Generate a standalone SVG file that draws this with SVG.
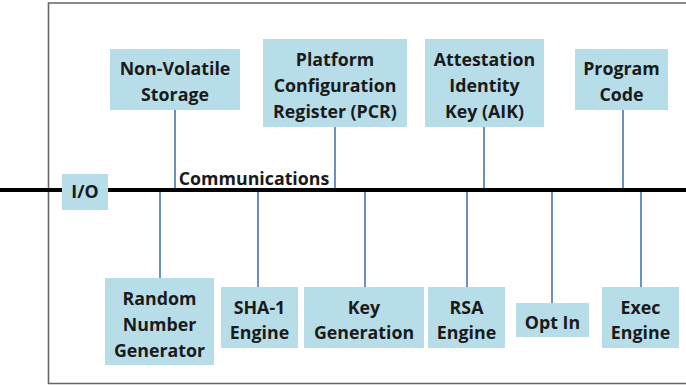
<svg xmlns="http://www.w3.org/2000/svg" width="686" height="386" viewBox="0 0 686 386">
<style>
.box{fill:#b7dde8}
.t{font-family:"Open Sans","Liberation Sans",sans-serif;font-weight:bold;font-size:17.8px;fill:#1a1a1a;text-anchor:middle}
.c{stroke:#6c8fc4;stroke-width:2;fill:none}
</style>
<rect width="686" height="386" fill="#fff"/>
<path d="M686,3 H48.5 V383.5 H686" fill="none" stroke="#666" stroke-width="1.6"/>
<g id="connectors">
<line class="c" x1="175" y1="110" x2="175" y2="190"/>
<line class="c" x1="335" y1="127" x2="335" y2="190"/>
<line class="c" x1="484" y1="127" x2="484" y2="190"/>
<line class="c" x1="623" y1="110" x2="623" y2="190"/>
<line class="c" x1="160" y1="190" x2="160" y2="278"/>
<line class="c" x1="258" y1="190" x2="258" y2="287"/>
<line class="c" x1="365" y1="190" x2="365" y2="287"/>
<line class="c" x1="467" y1="190" x2="467" y2="287"/>
<line class="c" x1="552" y1="190" x2="552" y2="303"/>
<line class="c" x1="641" y1="190" x2="641" y2="287"/>
</g>
<g id="bus">
<line x1="0" y1="190" x2="686" y2="190" stroke="#000" stroke-width="4"/>
<text class="t" x="254" y="185">Communications</text>
</g>
<g id="io"><rect class="box" x="62" y="174" width="46" height="36"/><text class="t" x="85" y="198">I/O</text></g>
<g id="nvs"><rect class="box" x="110" y="49" width="130" height="61"/><text class="t" x="175" y="75">Non-Volatile</text><text class="t" x="175" y="101">Storage</text></g>
<g id="pcr"><rect class="box" x="263" y="39" width="144" height="88"/><text class="t" x="335" y="66">Platform</text><text class="t" x="335" y="92">Configuration</text><text class="t" x="335" y="118">Register (PCR)</text></g>
<g id="aik"><rect class="box" x="425" y="39" width="119" height="88"/><text class="t" x="484.5" y="66">Attestation</text><text class="t" x="484.5" y="92">Identity</text><text class="t" x="484.5" y="118">Key (AIK)</text></g>
<g id="code"><rect class="box" x="575" y="49" width="93" height="61"/><text class="t" x="621.5" y="75">Program</text><text class="t" x="621.5" y="101">Code</text></g>
<g id="rng"><rect class="box" x="105" y="278" width="109" height="87"/><text class="t" x="159.5" y="305">Random</text><text class="t" x="159.5" y="331">Number</text><text class="t" x="159.5" y="357">Generator</text></g>
<g id="sha"><rect class="box" x="221" y="287" width="77" height="61"/><text class="t" x="259.5" y="314">SHA-1</text><text class="t" x="259.5" y="339">Engine</text></g>
<g id="keygen"><rect class="box" x="304" y="287" width="120" height="61"/><text class="t" x="364" y="314">Key</text><text class="t" x="364" y="339">Generation</text></g>
<g id="rsa"><rect class="box" x="428" y="287" width="77" height="61"/><text class="t" x="466.5" y="314">RSA</text><text class="t" x="466.5" y="339">Engine</text></g>
<g id="optin"><rect class="box" x="516" y="303" width="73" height="34"/><text class="t" x="552.5" y="329">Opt In</text></g>
<g id="exec"><rect class="box" x="602" y="287" width="77" height="61"/><text class="t" x="640.5" y="314">Exec</text><text class="t" x="640.5" y="339">Engine</text></g>
</svg>
